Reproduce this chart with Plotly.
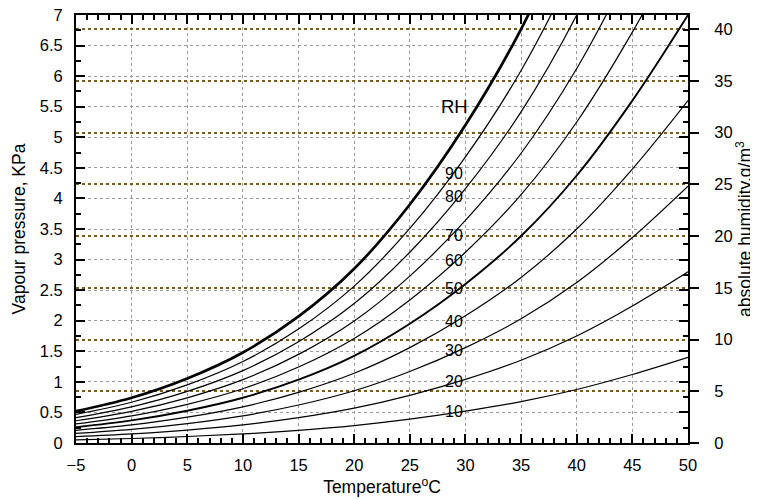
import plotly.graph_objects as go

# ---- data ----
temps = [-5, 0, 5, 10, 15, 20, 25, 30, 35, 40, 45, 50]          # deg C
rh_levels = [10, 20, 30, 40, 50, 60, 70, 80, 90, 100]          # % RH

# vapour pressure (KPa) of each RH curve at the temperatures above
rh10 = [0.052, 0.074, 0.106, 0.148, 0.207, 0.285, 0.39, 0.52, 0.677, 0.875, 1.12, 1.40]
rh20 = [0.104, 0.148, 0.211, 0.296, 0.414, 0.570, 0.78, 1.04, 1.354, 1.750, 2.24, 2.80]
rh30 = [0.156, 0.222, 0.317, 0.444, 0.621, 0.855, 1.17, 1.56, 2.031, 2.625, 3.36, 4.20]
rh40 = [0.208, 0.296, 0.422, 0.592, 0.828, 1.140, 1.56, 2.08, 2.708, 3.500, 4.48, 5.60]
rh50 = [0.260, 0.370, 0.528, 0.740, 1.035, 1.425, 1.95, 2.60, 3.385, 4.375, 5.60, 7.00]
rh60 = [0.312, 0.444, 0.633, 0.888, 1.242, 1.710, 2.34, 3.12, 4.062, 5.250, 6.72, 8.40]
rh70 = [0.364, 0.518, 0.739, 1.036, 1.449, 1.995, 2.73, 3.64, 4.739, 6.125, 7.84, 9.80]
rh80 = [0.416, 0.592, 0.844, 1.184, 1.656, 2.280, 3.12, 4.16, 5.416, 7.000, 8.96, 11.20]
rh90 = [0.468, 0.666, 0.950, 1.332, 1.863, 2.565, 3.51, 4.68, 6.093, 7.875, 10.08, 12.60]
rh100 = [0.520, 0.740, 1.055, 1.480, 2.070, 2.850, 3.90, 5.20, 6.770, 8.750, 11.20, 14.00]

series = [rh10, rh20, rh30, rh40, rh50, rh60, rh70, rh80, rh90, rh100]

label_texts = ["10", "20", "30", "40", "50", "60", "70", "80", "90"]
label_kpa = [0.51, 1.00, 1.52, 1.98, 2.53, 2.99, 3.40, 4.03, 4.41]
label_temp = 29
rh_title_kpa = 5.5

x_ticks = [-5, 0, 5, 10, 15, 20, 25, 30, 35, 40, 45, 50]
y_ticks = [0, 0.5, 1, 1.5, 2, 2.5, 3, 3.5, 4, 4.5, 5, 5.5, 6, 6.5, 7]
abs_ticks = [0, 5, 10, 15, 20, 25, 30, 35, 40]
kpa_max = 7
kpa_per_gm3 = 0.16925   # 40 g/m3 sits at ~6.77 KPa on the chart

FONT = "Liberation Sans, Arial, Helvetica, sans-serif"
TICK_SIZE = 16.5
TITLE_SIZE = 17.5

fig = go.Figure()

for rh, vals in zip(rh_levels, series):
    if rh == 100:
        w = 2.7
    elif rh == 50:
        w = 1.9
    else:
        w = 1.2
    fig.add_trace(go.Scatter(
        x=temps, y=vals, mode="lines",
        line=dict(color="black", width=w, shape="spline", smoothing=1.0),
        name=f"{rh}%", showlegend=False, hoverinfo="skip"))

# anchor trace for the right axis
fig.add_trace(go.Scatter(x=[temps[0]], y=[abs_ticks[0]], yaxis="y2", mode="lines",
                         line=dict(width=0), showlegend=False, hoverinfo="skip"))

annotations = []
for t, k in zip(label_texts, label_kpa):
    annotations.append(dict(x=label_temp, y=k, xref="x", yref="y", text=t,
                            showarrow=False, font=dict(family=FONT, size=16, color="black")))
annotations.append(dict(x=label_temp, y=rh_title_kpa, xref="x", yref="y", text="RH",
                        showarrow=False, font=dict(family=FONT, size=18.5, color="black")))

# the page adds an 8px body margin, so the figure is sized to fit inside it
fig.update_layout(
    width=750, height=491,
    margin=dict(l=68, r=70, t=7, b=56, autoexpand=False),
    paper_bgcolor="white", plot_bgcolor="white",
    font=dict(family=FONT, size=TICK_SIZE, color="black"),
    annotations=annotations,
    xaxis=dict(
        range=[-5, 50], tickvals=x_ticks, ticks="inside", ticklen=9, tickwidth=1.5,
        tickcolor="black", showline=True, linecolor="black", linewidth=2,
        mirror="ticks", showgrid=True, gridcolor="#9a9a9a", griddash="dot", gridwidth=1,
        zeroline=False, automargin=False, ticklabelstandoff=6, ticklabeloverflow="allow",
        minor=dict(dtick=1, ticks="inside", ticklen=5, tickcolor="black", showgrid=False),
        title=dict(text="Temperature<sup>o</sup>C", font=dict(size=TITLE_SIZE), standoff=8),
        tickfont=dict(size=TICK_SIZE),
    ),
    yaxis=dict(
        range=[0, kpa_max], tickvals=y_ticks, ticktext=[f"{v:g}" for v in y_ticks],
        ticks="inside", ticklen=9, tickwidth=1.5, tickcolor="black",
        showline=True, linecolor="black", linewidth=2, mirror="ticks",
        showgrid=True, gridcolor="#9a9a9a", griddash="dot", gridwidth=1, zeroline=False,
        automargin=False, ticklabelstandoff=8, ticklabeloverflow="allow",
        minor=dict(dtick=0.25, ticks="inside", ticklen=5, tickcolor="black", showgrid=False),
        title=dict(text="Vapour pressure, KPa", font=dict(size=TITLE_SIZE), standoff=10),
        tickfont=dict(size=TICK_SIZE),
    ),
    yaxis2=dict(
        overlaying="y", side="right", anchor="x",
        range=[0, kpa_max / kpa_per_gm3], tickvals=abs_ticks,
        ticks="outside", ticklen=9, tickwidth=2, tickcolor="black",
        showline=True, linecolor="black", linewidth=2,
        showgrid=True, gridcolor="#7a5a1e", griddash="dot", gridwidth=1.7, zeroline=False,
        automargin=False, ticklabelstandoff=12, ticklabeloverflow="allow",
        title=dict(text="absolute humidity,g/m<sup>3</sup>", font=dict(size=TITLE_SIZE), standoff=6),
        tickfont=dict(size=TICK_SIZE),
    ),
)

fig.write_html("out.html")
